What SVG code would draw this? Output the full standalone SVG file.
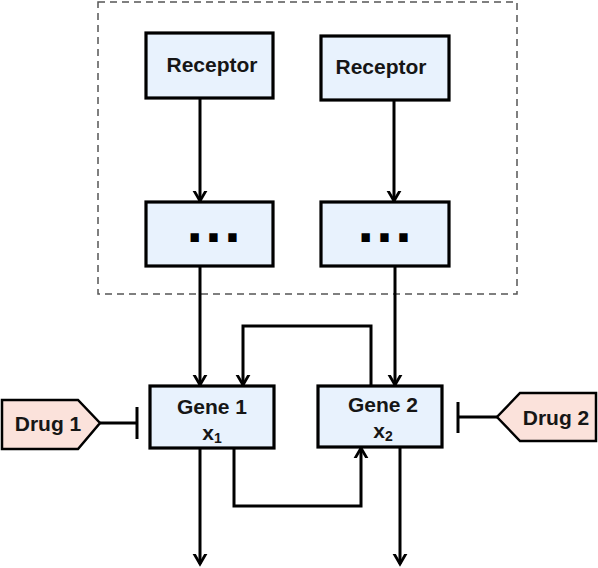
<svg xmlns="http://www.w3.org/2000/svg" width="598" height="568" viewBox="0 0 598 568">
<style>
.box{fill:#e8f2fd;stroke:#000;stroke-width:3.2}
.drug{fill:#fbe2db;stroke:#000;stroke-width:2.5}
.lbl{font-family:"Liberation Sans",Arial,sans-serif;font-weight:bold;font-size:21px;fill:#161616;text-anchor:middle}
.dots{font-family:"DejaVu Sans",sans-serif;font-weight:bold;font-size:47px;fill:#000;text-anchor:middle;letter-spacing:1px}
.sub{font-size:14px}
.ln{fill:none;stroke:#000;stroke-width:3}
.arr{marker-end:url(#ah)}
</style>
<defs>
<marker id="ah" markerUnits="userSpaceOnUse" markerWidth="20" markerHeight="20" viewBox="-10 -10 20 20" refX="0" refY="0" orient="auto">
<path d="M-13,-7.5 L0,0 L-13,7.5" fill="none" stroke="#000" stroke-width="2.8"/>
</marker>
</defs>
<rect x="98" y="2" width="419" height="292" fill="none" stroke="#555" stroke-width="1.5" stroke-dasharray="7,5"/>
<g id="connectors">
<line class="ln arr" x1="200" y1="98" x2="200" y2="201"/>
<line class="ln arr" x1="394" y1="100" x2="394" y2="201"/>
<line class="ln arr" x1="200" y1="266" x2="200" y2="385"/>
<line class="ln arr" x1="395" y1="266" x2="395" y2="385"/>
<polyline class="ln arr" points="371,386 371,326 243,326 243,385"/>
<polyline class="ln arr" points="234,448 234,506 361,506 361,448"/>
<line class="ln arr" x1="200" y1="448" x2="200" y2="564"/>
<line class="ln arr" x1="400" y1="447" x2="400" y2="564"/>
<line class="ln" x1="100" y1="423" x2="137" y2="423"/>
<line class="ln" x1="137" y1="407" x2="137" y2="439"/>
<line class="ln" x1="497" y1="417" x2="458" y2="417"/>
<line class="ln" x1="458" y1="402" x2="458" y2="433"/>
</g>
<g id="receptor1"><rect class="box" x="146" y="33" width="127" height="65"/><text class="lbl" x="212" y="72">Receptor</text></g>
<g id="receptor2"><rect class="box" x="321" y="36" width="128" height="64"/><text class="lbl" x="381" y="74">Receptor</text></g>
<g id="path1"><rect class="box" x="146" y="202" width="127" height="64"/><text class="dots" x="214" y="242">...</text></g>
<g id="path2"><rect class="box" x="321" y="202" width="128" height="64"/><text class="dots" x="385" y="242">...</text></g>
<g id="gene1"><rect class="box" x="150" y="386" width="124" height="62"/><text class="lbl" x="212" y="414">Gene 1</text><text class="lbl" x="212" y="440">x<tspan class="sub" dy="3">1</tspan></text></g>
<g id="gene2"><rect class="box" x="318" y="386" width="124" height="61"/><text class="lbl" x="383" y="412">Gene 2</text><text class="lbl" x="383" y="438">x<tspan class="sub" dy="3">2</tspan></text></g>
<g id="drug1"><polygon class="drug" points="2,400 78,400 100,423 78,449 2,449"/><text class="lbl" x="48" y="431">Drug 1</text></g>
<g id="drug2"><polygon class="drug" points="596,393 520,393 497,417 520,441 596,441"/><text class="lbl" x="556" y="425">Drug 2</text></g>
</svg>
